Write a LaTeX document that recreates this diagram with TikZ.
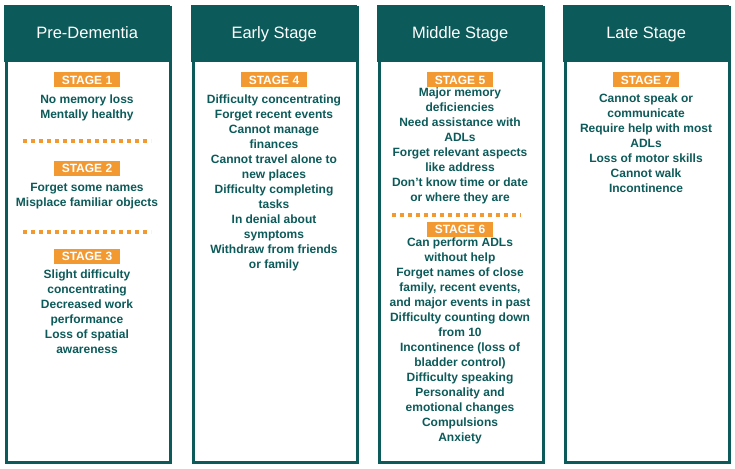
\documentclass[tikz,border=0pt]{standalone}
\usepackage{fontspec}
\setmainfont{Liberation Sans}
\usetikzlibrary{positioning}
\definecolor{darkteal}{RGB}{12,90,89}
\definecolor{stageorange}{RGB}{242,153,50}
\tikzset{
  column/.style={draw=darkteal, line width=2.5pt, minimum width=164pt, minimum height=455pt, anchor=north west},
  header/.style={fill=darkteal, minimum width=166pt, minimum height=57pt, text height=12pt, text depth=3pt, anchor=north west, text=white, font=\fontsize{16.5}{18}\selectfont},
  stagebox/.style={fill=stageorange, text=white, font=\bfseries\fontsize{12}{13}\selectfont, minimum width=66pt, minimum height=15pt, inner sep=0pt},
  items/.style={text=darkteal, font=\bfseries\fontsize{12}{15}\selectfont, align=center, anchor=north, inner sep=0pt},
  dots/.style={draw=stageorange, line width=4pt, dash pattern=on 4pt off 4pt}
}
\begin{document}
\begin{tikzpicture}[x=1pt,y=-1pt]
\useasboundingbox (0,0) rectangle (735,468);
% columns and headers
\foreach \n/\xx/\title in {a/4/Pre-Dementia, b/191/Early Stage, c/377/Middle Stage, d/563/Late Stage}{
  \node[column] (col\n) at (\xx+1,6) {};
  \node[header] (head\n) at (\xx,5) {\title};
}
% Pre-Dementia
\node[stagebox] (s1) at (87,80) {STAGE 1};
\node[items] (t1) at (87,95) {No memory loss\\Mentally healthy};
\draw[dots] (23,141) -- (151,141);
\node[stagebox] (s2) at (87,168) {STAGE 2};
\node[items] (t2) at (87,183) {Forget some names\\Misplace familiar objects};
\draw[dots] (23,232) -- (151,232);
\node[stagebox] (s3) at (87,256) {STAGE 3};
\node[items] (t3) at (87,270) {Slight difficulty\\concentrating\\Decreased work\\performance\\Loss of spatial\\awareness};
% Early Stage
\node[stagebox] (s4) at (274,80) {STAGE 4};
\node[items] (t4) at (274,95) {Difficulty concentrating\\Forget recent events\\Cannot manage\\finances\\Cannot travel alone to\\new places\\Difficulty completing\\tasks\\In denial about\\symptoms\\Withdraw from friends\\or family};
% Middle Stage
\node[stagebox] (s5) at (460,80) {STAGE 5};
\node[items] (t5) at (460,88) {Major memory\\deficiencies\\Need assistance with\\ADLs\\Forget relevant aspects\\like address\\Don't know time or date\\or where they are};
\draw[dots] (392,215) -- (521,215);
\node[stagebox] (s6) at (460,229) {STAGE 6};
\node[items] (t6) at (460,238) {Can perform ADLs\\without help\\Forget names of close\\family, recent events,\\and major events in past\\Difficulty counting down\\from 10\\Incontinence (loss of\\bladder control)\\Difficulty speaking\\Personality and\\emotional changes\\Compulsions\\Anxiety};
% Late Stage
\node[stagebox] (s7) at (646,80) {STAGE 7};
\node[items] (t7) at (646,94) {Cannot speak or\\communicate\\Require help with most\\ADLs\\Loss of motor skills\\Cannot walk\\Incontinence};
\end{tikzpicture}
\end{document}
